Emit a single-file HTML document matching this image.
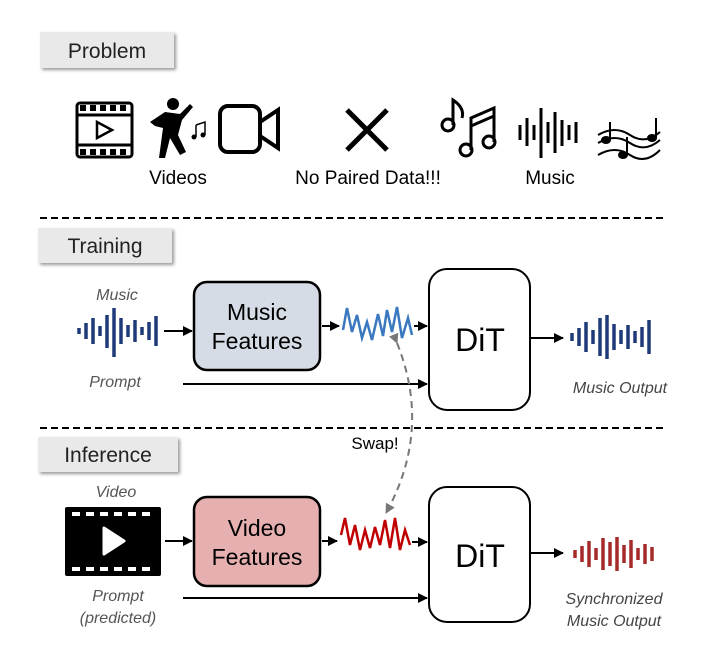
<!DOCTYPE html>
<html><head><style>
body{margin:0;background:#fff}
svg text{font-family:"Liberation Sans",Arial,sans-serif}
</style></head><body>
<svg width="727" height="647" viewBox="0 0 727 647" xmlns="http://www.w3.org/2000/svg">
<defs>
<marker id="a" viewBox="0 0 10 10" refX="9" refY="5" markerWidth="5" markerHeight="5" orient="auto"><path d="M0 0L10 5L0 10z" fill="#000"/></marker>
<marker id="g" viewBox="0 0 10 10" refX="9" refY="5" markerWidth="5" markerHeight="5" orient="auto"><path d="M0 0L10 5L0 10z" fill="#777"/></marker>
<filter id="s" x="-10%" y="-10%" width="130%" height="140%"><feDropShadow dx="2" dy="2" stdDeviation="1.5" flood-color="#999"/></filter>
</defs>
<rect x="40" y="32" width="134" height="36" fill="#e9e9e9" filter="url(#s)"/>
<text x="107" y="58" font-size="21" text-anchor="middle" fill="#222">Problem</text>
<rect x="38" y="228" width="134" height="35" fill="#e9e9e9" filter="url(#s)"/>
<text x="105" y="253" font-size="21" text-anchor="middle" fill="#222">Training</text>
<rect x="38" y="437" width="140" height="35" fill="#e9e9e9" filter="url(#s)"/>
<text x="108" y="462" font-size="21" text-anchor="middle" fill="#222">Inference</text>
<line x1="40" y1="218" x2="663" y2="218" stroke="#000" stroke-width="2" stroke-dasharray="7,4"/>
<line x1="40" y1="428" x2="663" y2="428" stroke="#000" stroke-width="2" stroke-dasharray="7,4"/>

<g fill="none" stroke="#000" stroke-width="3">
<rect x="77" y="103" width="55" height="54" rx="3"/>
<line x1="77" y1="115" x2="132" y2="115"/><line x1="77" y1="145" x2="132" y2="145"/>
<path d="M97 122 L112 130 L97 138 Z" stroke-width="2.5"/>
<rect x="220" y="106" width="40" height="46" rx="8" stroke-width="4"/>
<path d="M260 122 L278 110 L278 148 L260 136" stroke-width="4"/>
<path d="M347 110 L387 150 M387 110 L347 150" stroke-width="5"/>
</g>
<g fill="#000">
<rect x="80" y="105" width="6" height="6"/><rect x="90" y="105" width="6" height="6"/><rect x="100" y="105" width="6" height="6"/><rect x="110" y="105" width="6" height="6"/><rect x="120" y="105" width="6" height="6"/>
<rect x="80" y="149" width="6" height="6"/><rect x="90" y="149" width="6" height="6"/><rect x="100" y="149" width="6" height="6"/><rect x="110" y="149" width="6" height="6"/><rect x="120" y="149" width="6" height="6"/>
<circle cx="173" cy="104" r="6"/>
<path d="M150 122 L165 112 L180 114 L190 104 L193 107 L182 120 L178 135 L186 152 L180 155 L170 138 L165 158 L159 158 L163 128 L155 126 Z"/>
<path d="M196 125 L205 122 L205 135 M196 125 L196 137" stroke="#000" stroke-width="1.5" fill="none"/>
<circle cx="194" cy="137" r="2.5"/><circle cx="203" cy="135" r="2.5"/>
<circle cx="448" cy="125" r="6" fill="none" stroke="#000" stroke-width="3"/>
<path d="M453 125 L453 100 Q465 108 462 118" fill="none" stroke="#000" stroke-width="3"/>
<circle cx="466" cy="150" r="6" fill="none" stroke="#000" stroke-width="3"/>
<circle cx="489" cy="142" r="6" fill="none" stroke="#000" stroke-width="3"/>
<path d="M471 150 L471 118 L494 108 L494 142 M471 126 L494 116" fill="none" stroke="#000" stroke-width="3"/>
</g>
<g stroke="#000" stroke-width="3">
<line x1="520" y1="125" x2="520" y2="140"/><line x1="527" y1="118" x2="527" y2="146"/><line x1="534" y1="125" x2="534" y2="140"/><line x1="541" y1="108" x2="541" y2="158"/><line x1="548" y1="122" x2="548" y2="143"/><line x1="555" y1="112" x2="555" y2="153"/><line x1="562" y1="120" x2="562" y2="146"/><line x1="569" y1="125" x2="569" y2="140"/><line x1="576" y1="122" x2="576" y2="143"/>
</g>
<g fill="none" stroke="#000" stroke-width="2">
<path d="M598 135 Q615 125 630 135 T660 132"/><path d="M598 143 Q615 133 630 143 T660 140"/><path d="M598 155 Q615 145 630 155 T660 150"/>
</g>
<g fill="#000"><ellipse cx="606" cy="140" rx="5" ry="4"/><ellipse cx="623" cy="155" rx="5" ry="4"/><ellipse cx="652" cy="138" rx="5" ry="4"/>
<rect x="609" y="122" width="2" height="18"/><rect x="626" y="137" width="2" height="18"/><rect x="655" y="118" width="2" height="20"/></g>
<text x="178" y="184" font-size="19" text-anchor="middle">Videos</text>
<text x="368" y="184" font-size="19" text-anchor="middle">No Paired Data!!!</text>
<text x="550" y="184" font-size="19" text-anchor="middle">Music</text>

<text x="117" y="300" font-size="16" font-style="italic" fill="#555" text-anchor="middle">Music</text>
<g stroke="#1f3a78" stroke-width="3.5">
<line x1="79" y1="328" x2="79" y2="334"/><line x1="86" y1="323" x2="86" y2="339"/><line x1="93" y1="318" x2="93" y2="344"/><line x1="100" y1="326" x2="100" y2="336"/><line x1="107" y1="315" x2="107" y2="348"/><line x1="114" y1="308" x2="114" y2="357"/><line x1="121" y1="318" x2="121" y2="344"/><line x1="128" y1="325" x2="128" y2="337"/><line x1="135" y1="320" x2="135" y2="342"/><line x1="142" y1="327" x2="142" y2="335"/><line x1="149" y1="322" x2="149" y2="340"/><line x1="156" y1="316" x2="156" y2="346"/>
</g>
<line x1="164" y1="331" x2="192" y2="331" stroke="#000" stroke-width="2" marker-end="url(#a)"/>
<rect x="194" y="282" width="126" height="88" rx="13" fill="#d6dce5" stroke="#000" stroke-width="2.5"/>
<text x="257" y="320" font-size="23" text-anchor="middle">Music</text>
<text x="257" y="349" font-size="23" text-anchor="middle">Features</text>
<line x1="322" y1="326" x2="339" y2="326" stroke="#000" stroke-width="2" marker-end="url(#a)"/>
<path d="M343 330 L347 308 L352 332 L357 315 L362 338 L367 322 L372 340 L378 314 L383 336 L387 310 L392 332 L397 307 L402 338 L408 318 L412 335" fill="none" stroke="#3a78c0" stroke-width="2.5"/>
<line x1="414" y1="326" x2="427" y2="326" stroke="#000" stroke-width="2" marker-end="url(#a)"/>
<rect x="429" y="269" width="101" height="141" rx="18" fill="#fff" stroke="#000" stroke-width="2"/>
<text x="480" y="351" font-size="32" text-anchor="middle">DiT</text>
<text x="115" y="387" font-size="16" font-style="italic" fill="#555" text-anchor="middle">Prompt</text>
<line x1="183" y1="384" x2="427" y2="384" stroke="#000" stroke-width="2" marker-end="url(#a)"/>
<line x1="531" y1="338" x2="563" y2="338" stroke="#000" stroke-width="2" marker-end="url(#a)"/>
<g stroke="#1f3a78" stroke-width="3.5">
<line x1="572" y1="333" x2="572" y2="341"/><line x1="579" y1="328" x2="579" y2="346"/><line x1="586" y1="322" x2="586" y2="352"/><line x1="593" y1="330" x2="593" y2="344"/><line x1="600" y1="318" x2="600" y2="356"/><line x1="607" y1="315" x2="607" y2="359"/><line x1="614" y1="324" x2="614" y2="350"/><line x1="621" y1="330" x2="621" y2="344"/><line x1="628" y1="325" x2="628" y2="349"/><line x1="635" y1="331" x2="635" y2="343"/><line x1="642" y1="327" x2="642" y2="347"/><line x1="649" y1="320" x2="649" y2="354"/>
</g>
<text x="620" y="393" font-size="16" font-style="italic" fill="#444" text-anchor="middle">Music Output</text>

<path d="M397 343 Q432 430 386 513" fill="none" stroke="#777" stroke-width="2" stroke-dasharray="7,5" marker-start="url(#g)" marker-end="url(#g)"/>
<text x="375" y="449" font-size="17" text-anchor="middle" fill="#000">Swap!</text>

<text x="116" y="497" font-size="16" font-style="italic" fill="#555" text-anchor="middle">Video</text>
<rect x="65" y="507" width="96" height="69" rx="2" fill="#000"/>
<g fill="#fff">
<rect x="72" y="512" width="8" height="4"/><rect x="86" y="512" width="8" height="4"/><rect x="100" y="512" width="8" height="4"/><rect x="114" y="512" width="8" height="4"/><rect x="128" y="512" width="8" height="4"/><rect x="142" y="512" width="8" height="4"/>
<rect x="72" y="567" width="8" height="4"/><rect x="86" y="567" width="8" height="4"/><rect x="100" y="567" width="8" height="4"/><rect x="114" y="567" width="8" height="4"/><rect x="128" y="567" width="8" height="4"/><rect x="142" y="567" width="8" height="4"/>
<path d="M104 528 L124 541 L104 554 Z" stroke="#fff" stroke-width="3" stroke-linejoin="round"/>
</g>
<line x1="165" y1="541" x2="192" y2="541" stroke="#000" stroke-width="2" marker-end="url(#a)"/>
<rect x="194" y="497" width="126" height="89" rx="13" fill="#e6b0b0" stroke="#000" stroke-width="2.5"/>
<text x="257" y="536" font-size="23" text-anchor="middle">Video</text>
<text x="257" y="565" font-size="23" text-anchor="middle">Features</text>
<line x1="322" y1="541" x2="337" y2="541" stroke="#000" stroke-width="2" marker-end="url(#a)"/>
<path d="M341 535 L345 518 L350 545 L355 525 L360 550 L365 530 L370 548 L375 527 L380 545 L385 520 L390 548 L395 518 L400 550 L405 530 L410 545" fill="none" stroke="#c00000" stroke-width="2.5"/>
<line x1="412" y1="542" x2="427" y2="542" stroke="#000" stroke-width="2" marker-end="url(#a)"/>
<rect x="429" y="487" width="101" height="135" rx="18" fill="#fff" stroke="#000" stroke-width="2"/>
<text x="480" y="567" font-size="32" text-anchor="middle">DiT</text>
<text x="118" y="601" font-size="16" font-style="italic" fill="#555" text-anchor="middle">Prompt</text>
<text x="118" y="623" font-size="16" font-style="italic" fill="#555" text-anchor="middle">(predicted)</text>
<line x1="183" y1="598" x2="427" y2="598" stroke="#000" stroke-width="2" marker-end="url(#a)"/>
<line x1="531" y1="553" x2="563" y2="553" stroke="#000" stroke-width="2" marker-end="url(#a)"/>
<g stroke="#a52a2a" stroke-width="3.5">
<line x1="575" y1="550" x2="575" y2="558"/><line x1="582" y1="546" x2="582" y2="562"/><line x1="589" y1="541" x2="589" y2="567"/><line x1="596" y1="548" x2="596" y2="560"/><line x1="603" y1="538" x2="603" y2="570"/><line x1="610" y1="542" x2="610" y2="566"/><line x1="617" y1="537" x2="617" y2="571"/><line x1="624" y1="545" x2="624" y2="563"/><line x1="631" y1="540" x2="631" y2="568"/><line x1="638" y1="548" x2="638" y2="560"/><line x1="645" y1="544" x2="645" y2="564"/><line x1="652" y1="547" x2="652" y2="561"/>
</g>
<text x="614" y="604" font-size="16" font-style="italic" fill="#444" text-anchor="middle">Synchronized</text>
<text x="614" y="626" font-size="16" font-style="italic" fill="#444" text-anchor="middle">Music Output</text>
</svg>
</body></html>
